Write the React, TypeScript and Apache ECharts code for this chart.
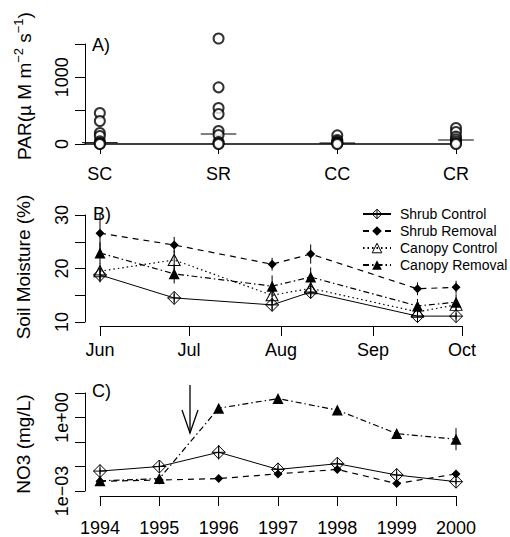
import React, { useEffect, useRef } from "react";
import * as echarts from "echarts";

const FONT = "'Liberation Sans', Arial, Helvetica, sans-serif";

// ---------- Panel A: PAR strip chart ----------
const parGroups = ["SC", "SR", "CC", "CR"];
const parSC = [465, 345, 165, 120, 40, 15, 5, 0];
const parSR = [1582, 850, 540, 450, 195, 135, 30, 10, 0];
const parCC = [130, 60, 35, 20, 10, 0];
const parCR = [240, 180, 110, 70, 40, 15, 0];
const parMedian = [20, 150, 15, 60];
const parTicks = [0, 500, 1000, 1500];
const parTickLabels = [0, 1000];

// ---------- Panel B: soil moisture ----------
const monthDays = [152, 182, 213, 244, 274];
const monthNames = ["Jun", "Jul", "Aug", "Sep", "Oct"];
const sampleDays = [152, 177, 210, 223, 259, 272];
const smShrubControl = [18.8, 14.5, 13.2, 15.6, 11.1, 11.1];
const smShrubRemoval = [26.6, 24.4, 20.8, 22.7, 16.2, 16.5];
const smCanopyControl = [19.5, 21.6, 15.0, 16.3, 11.9, 13.2];
const smCanopyRemoval = [22.9, 19.0, 16.7, 18.4, 13.0, 13.7];
const seShrubControl = [1.4, 0.8, 1.0, 1.2, 0.6, 0.6];
const seShrubRemoval = [3.5, 1.5, 1.2, 1.8, 1.2, 1.2];
const seCanopyControl = [1.5, 1.8, 1.5, 1.5, 1.0, 1.0];
const seCanopyRemoval = [2.0, 1.8, 2.0, 1.8, 1.3, 1.5];
const smTickLabels = [10, 20, 30];

// ---------- Panel C: NO3 ----------
const years = [1994, 1995, 1996, 1997, 1998, 1999, 2000];
const no3ShrubControl = [0.0065, 0.01, 0.038, 0.0076, 0.013, 0.0045, 0.0024];
const no3ShrubRemoval = [0.0025, 0.0028, 0.0032, 0.005, 0.0076, 0.002, 0.005];
const no3CanopyRemoval = [0.0026, 0.0032, 2.4, 5.9, 2.0, 0.22, 0.13];
const errLogShrubControl = [0.12, 0.15, 0.3, 0.12, 0.12, 0.12, 0.1];
const errLogCanopyRemoval = [0.15, 0.15, 0.12, 0.08, 0.08, 0.08, 0.45];
const no3Ticks = [0.001, 0.01, 0.1, 1, 10];
const no3TickLabels = [0.001, 1];

const SERIES_NAMES = ["Shrub Control", "Shrub Removal", "Canopy Control", "Canopy Removal"];

const DIAMOND_PLUS = "path://M0,-10L10,0L0,10L-10,0Z M-10,0L10,0 M0,-10L0,10";
const OPEN_TRIANGLE = "path://M0,-10L10,8L-10,8Z";
const CLEAR = "rgba(0,0,0,0)";
const openItem = { color: CLEAR, borderColor: "#000", borderWidth: 1 };

const styles: Record<string, any> = {
  "Shrub Control": {
    symbol: DIAMOND_PLUS,
    symbolSize: 13,
    itemStyle: openItem,
    lineStyle: { color: "#000", width: 1, type: "solid" },
  },
  "Shrub Removal": {
    symbol: "diamond",
    symbolSize: 9,
    itemStyle: { color: "#000" },
    lineStyle: { color: "#000", width: 1.2, type: [6, 5] },
  },
  "Canopy Control": {
    symbol: OPEN_TRIANGLE,
    symbolSize: [12, 11],
    itemStyle: openItem,
    lineStyle: { color: "#000", width: 1.2, type: [1.5, 3] },
  },
  "Canopy Removal": {
    symbol: "triangle",
    symbolSize: 11,
    itemStyle: { color: "#000" },
    lineStyle: { color: "#000", width: 1.2, type: [6, 3, 1.5, 3] },
  },
};

const axisLine = { show: true, lineStyle: { color: "#000", width: 1 } };
const axisTick = { show: true, length: 10, lineStyle: { color: "#000", width: 1 } };
const labelStyle = { color: "#000", fontSize: 18, fontFamily: FONT };

function errorSeries(name: string, xi: number, yi: number, data: number[][]) {
  return {
    type: "custom",
    name,
    xAxisIndex: xi,
    yAxisIndex: yi,
    silent: true,
    encode: { x: 0, y: [1, 2] },
    data,
    renderItem: (params: any, api: any) => {
      const x = api.value(0);
      const p1 = api.coord([x, api.value(1)]);
      const p2 = api.coord([x, api.value(2)]);
      return {
        type: "line",
        shape: { x1: p1[0], y1: p1[1], x2: p2[0], y2: p2[1] },
        style: { stroke: "#000", lineWidth: 1 },
      };
    },
  };
}

function buildOption() {
  const parSets = [parSC, parSR, parCC, parCR];
  const parPoints: number[][] = [];
  parSets.forEach((arr, gi) => arr.forEach((v) => parPoints.push([gi + 1, v])));

  const smSets = [smShrubControl, smShrubRemoval, smCanopyControl, smCanopyRemoval];
  const seSets = [seShrubControl, seShrubRemoval, seCanopyControl, seCanopyRemoval];

  const series: any[] = [];

  // Panel A
  series.push({
    type: "scatter",
    name: "PAR",
    xAxisIndex: 0,
    yAxisIndex: 0,
    clip: false,
    symbol: "emptyCircle",
    symbolSize: 10,
    itemStyle: { color: "#000", borderColor: "#000", borderWidth: 1 },
    data: parPoints,
  });
  series.push({
    type: "custom",
    name: "PAR median",
    xAxisIndex: 0,
    yAxisIndex: 0,
    silent: true,
    encode: { x: 0, y: 1 },
    data: parMedian.map((m, i) => [i + 1, m]),
    renderItem: (params: any, api: any) => {
      const x = api.value(0);
      const m = api.value(1);
      const a = api.coord([x - 0.15, m]);
      const b = api.coord([x + 0.15, m]);
      return {
        type: "line",
        shape: { x1: a[0], y1: a[1], x2: b[0], y2: b[1] },
        style: { stroke: "#000", lineWidth: 1 },
      };
    },
  });

  // Panel B
  SERIES_NAMES.forEach((name, si) => {
    series.push(
      errorSeries(
        name + " se",
        1,
        1,
        sampleDays.map((d, i) => [d, smSets[si][i] - seSets[si][i], smSets[si][i] + seSets[si][i]])
      )
    );
  });
  SERIES_NAMES.forEach((name, si) => {
    series.push({
      type: "line",
      name,
      xAxisIndex: 1,
      yAxisIndex: 1,
      ...styles[name],
      data: sampleDays.map((d, i) => [d, smSets[si][i]]),
    });
  });

  // Panel C
  series.push(
    errorSeries(
      "NO3 SC se",
      2,
      2,
      years.map((y, i) => [
        y,
        no3ShrubControl[i] / Math.pow(10, errLogShrubControl[i]),
        no3ShrubControl[i] * Math.pow(10, errLogShrubControl[i]),
      ])
    )
  );
  series.push(
    errorSeries(
      "NO3 CR se",
      2,
      2,
      years.map((y, i) => [
        y,
        no3CanopyRemoval[i] / Math.pow(10, errLogCanopyRemoval[i]),
        no3CanopyRemoval[i] * Math.pow(10, errLogCanopyRemoval[i]),
      ])
    )
  );
  const cSets: [string, number[]][] = [
    ["Shrub Control", no3ShrubControl],
    ["Shrub Removal", no3ShrubRemoval],
    ["Canopy Removal", no3CanopyRemoval],
  ];
  cSets.forEach(([name, arr]) => {
    series.push({
      type: "line",
      name: name + " NO3",
      xAxisIndex: 2,
      yAxisIndex: 2,
      ...styles[name],
      data: years.map((y, i) => [y, arr[i]]),
    });
  });

  const titleStyle = { fill: "#000", fontSize: 19, fontFamily: FONT };

  return {
    animation: false,
    backgroundColor: "#fff",
    textStyle: { fontFamily: FONT },
    grid: [
      { left: 85, top: 44, width: 371, height: 100, containLabel: false },
      { left: 100, top: 215, width: 362, height: 107, containLabel: false },
      { left: 100, top: 393, width: 356, height: 105, containLabel: false },
    ],
    xAxis: [
      {
        type: "value",
        gridIndex: 0,
        min: 0.875,
        max: 4,
        offset: 4,
        axisLine: { show: true, lineStyle: { color: "#000", width: 1.6 } },
        axisTick: { ...axisTick, customValues: [1, 2, 3, 4] },
        axisLabel: {
          ...labelStyle,
          margin: 17,
          customValues: [1, 2, 3, 4],
          formatter: (v: number) => parGroups[Math.round(v) - 1] ?? "",
        },
        splitLine: { show: false },
      },
      {
        type: "value",
        gridIndex: 1,
        min: monthDays[0],
        max: monthDays[monthDays.length - 1],
        offset: 4,
        axisLine,
        axisTick: { ...axisTick, customValues: monthDays },
        axisLabel: {
          ...labelStyle,
          margin: 15,
          customValues: monthDays,
          formatter: (v: number) => monthNames[monthDays.indexOf(Math.round(v))] ?? "",
        },
        splitLine: { show: false },
      },
      {
        type: "value",
        gridIndex: 2,
        min: 1994,
        max: 2000,
        interval: 1,
        offset: 5,
        axisLine,
        axisTick,
        axisLabel: { ...labelStyle, margin: 23, formatter: (v: number) => String(v) },
        splitLine: { show: false },
      },
    ],
    yAxis: [
      {
        type: "value",
        gridIndex: 0,
        min: 0,
        max: 1500,
        interval: 500,
        axisLine,
        axisTick: { ...axisTick, customValues: parTicks },
        axisLabel: {
          ...labelStyle,
          rotate: 90,
          margin: 14,
          customValues: parTickLabels,
          formatter: (v: number) => String(v),
        },
        splitLine: { show: false },
      },
      {
        type: "value",
        gridIndex: 1,
        min: 10,
        max: 30,
        interval: 5,
        offset: 15,
        axisLine,
        axisTick,
        axisLabel: {
          ...labelStyle,
          rotate: 90,
          margin: 14,
          customValues: smTickLabels,
          formatter: (v: number) => String(v),
        },
        splitLine: { show: false },
      },
      {
        type: "log",
        logBase: 10,
        gridIndex: 2,
        min: 0.001,
        max: 10,
        offset: 15,
        axisLine,
        axisTick: { ...axisTick, customValues: no3Ticks },
        axisLabel: {
          ...labelStyle,
          rotate: 90,
          margin: 14,
          alignMinLabel: "center",
          alignMaxLabel: "center",
          customValues: no3TickLabels,
          formatter: (v: number) => (v < 0.01 ? "1e\u221203" : "1e+00"),
        },
        splitLine: { show: false },
      },
    ],
    legend: {
      data: [
        { name: "Shrub Control", itemStyle: openItem },
        { name: "Shrub Removal" },
        { name: "Canopy Control", itemStyle: openItem },
        { name: "Canopy Removal" },
      ],
      orient: "vertical",
      left: 357,
      top: 201,
      itemWidth: 28,
      itemHeight: 12,
      itemGap: 1,
      selectedMode: false,
      textStyle: { color: "#000", fontSize: 14, lineHeight: 16, fontFamily: FONT, padding: [0, 0, 0, 4] },
    },
    graphic: [
      {
        type: "text",
        x: 23,
        y: 86,
        rotation: Math.PI / 2,
        style: {
          ...titleStyle,
          text: "{n|PAR(\u00b5 M m}{s|\u22122}{n| s}{s|\u22121}{n|)}",
          align: "center",
          verticalAlign: "middle",
          rich: {
            n: { fontSize: 19, fontFamily: FONT, fill: "#000", lineHeight: 22, verticalAlign: "bottom" },
            s: { fontSize: 13, fontFamily: FONT, fill: "#000", lineHeight: 22, verticalAlign: "top", padding: [0, 0, 8, 0] },
          },
        },
      },
      {
        type: "text",
        x: 23,
        y: 267,
        rotation: Math.PI / 2,
        style: { ...titleStyle, text: "Soil Moisture (%)", align: "center", verticalAlign: "middle" },
      },
      {
        type: "text",
        x: 23,
        y: 444,
        rotation: Math.PI / 2,
        style: { ...titleStyle, text: "NO3 (mg/L)", align: "center", verticalAlign: "middle" },
      },
      { type: "text", x: 92, y: 45, style: { ...titleStyle, fontSize: 18, text: "A)", verticalAlign: "middle" } },
      { type: "text", x: 93, y: 214, style: { ...titleStyle, fontSize: 18, text: "B)", verticalAlign: "middle" } },
      { type: "text", x: 92, y: 391, style: { ...titleStyle, fontSize: 18, text: "C)", verticalAlign: "middle" } },
      {
        type: "line",
        shape: { x1: 190, y1: 385, x2: 190, y2: 433 },
        style: { stroke: "#000", lineWidth: 1.3 },
      },
      {
        type: "polyline",
        shape: { points: [[182, 410], [190, 433], [198, 410]] },
        style: { stroke: "#000", lineWidth: 1.3, fill: null },
      },
    ],
    series,
  };
}

export default function App() {
  const ref = useRef<HTMLDivElement>(null);
  useEffect(() => {
    if (!ref.current) return;
    const chart = echarts.init(ref.current, null, { renderer: "svg" });
    chart.setOption(buildOption() as any);
    return () => chart.dispose();
  }, []);
  return (
    <div
      ref={ref}
      style={{ position: "fixed", left: 0, top: 0, width: 510, height: 537, background: "#fff" }}
    />
  );
}
